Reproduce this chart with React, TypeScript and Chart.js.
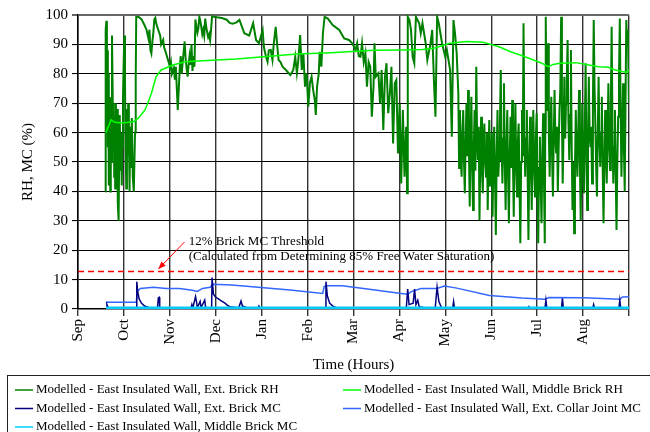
import React, { useEffect, useRef } from 'react';
import { Chart, registerables } from 'chart.js';

Chart.register(...registerables);

// ---------- DATA ----------
const monthLabels = ['Sep', 'Oct', 'Nov', 'Dec', 'Jan', 'Feb', 'Mar', 'Apr', 'May', 'Jun', 'Jul', 'Aug'];

const seriesNames = [
  'Modelled - East Insulated Wall, Ext. Brick RH',
  'Modelled - East Insulated Wall, Middle Brick RH',
  'Modelled - East Insulated Wall, Ext. Brick MC',
  'Modelled - East Insulated Wall, Ext. Collar Joint MC',
  'Modelled - East Insulated Wall, Middle Brick MC',
];

// time in months since 1 Sep, value in %
const extBrickRh: [number, number][] = [
  [0.597, 40], [0.603, 95], [0.618, 98], [0.629, 75], [0.639, 88], [0.650, 55], [0.661, 80], [0.671, 42],
  [0.688, 60], [0.703, 40], [0.714, 72], [0.725, 50], [0.740, 93], [0.752, 77], [0.767, 57], [0.778, 70],
  [0.789, 45], [0.799, 62], [0.810, 41], [0.825, 70], [0.838, 48], [0.852, 68], [0.867, 36], [0.884, 30],
  [0.899, 55], [0.910, 66], [0.923, 47], [0.938, 60], [0.953, 42], [0.965, 55], [0.980, 72], [0.995, 84],
  [1.008, 93], [1.023, 77], [1.038, 55], [1.051, 41], [1.066, 68], [1.080, 52], [1.093, 70], [1.108, 60],
  [1.123, 40], [1.136, 62], [1.151, 48], [1.172, 65], [1.193, 45], [1.215, 40], [1.242, 60], [1.257, 78],
  [1.268, 99.4],
  [1.321, 99.3], [1.385, 98.5], [1.449, 96.5], [1.492, 95], [1.534, 92], [1.556, 95], [1.577, 88], [1.598, 86.9],
  [1.620, 91], [1.641, 94], [1.662, 98.5], [1.684, 99], [1.705, 97], [1.747, 95], [1.790, 93], [1.811, 90],
  [1.854, 91.5], [1.875, 89], [1.918, 87], [1.960, 84.7], [2.003, 82.4], [2.024, 84], [2.045, 80], [2.088, 82],
  [2.109, 78], [2.131, 82.4], [2.152, 75], [2.173, 67.7], [2.195, 75], [2.216, 82], [2.237, 86], [2.259, 80],
  [2.280, 84], [2.323, 91], [2.344, 85], [2.365, 82], [2.387, 79], [2.408, 83], [2.429, 86], [2.451, 83],
  [2.472, 90], [2.493, 81], [2.515, 86], [2.536, 82.4], [2.557, 98.5], [2.579, 96], [2.600, 94], [2.621, 95.5],
  [2.643, 99.4], [2.664, 98], [2.685, 96], [2.707, 93.5], [2.728, 95], [2.749, 93], [2.771, 98.8], [2.792, 96],
  [2.813, 94], [2.834, 92.5], [2.856, 93.5], [2.877, 91.5], [2.898, 95], [2.920, 99.5], [3.026, 99.2], [3.133, 99],
  [3.239, 98.4], [3.303, 97.3], [3.367, 97], [3.452, 97.5],
  [3.516, 98.3], [3.623, 93.8], [3.729, 93], [3.814, 97.2], [3.878, 91.5], [3.942, 90.4], [4.021, 94.9], [4.049, 89],
  [4.092, 86], [4.128, 84.1], [4.156, 88], [4.198, 88.1], [4.235, 84.7], [4.262, 90], [4.305, 96], [4.348, 88],
  [4.369, 84.7], [4.411, 84], [4.454, 82.4], [4.518, 81.5], [4.561, 80.7], [4.625, 79.6], [4.689, 81.3], [4.731, 85.8],
  [4.767, 80.2], [4.795, 84], [4.838, 93.2], [4.874, 81.3], [4.908, 87], [4.944, 75.6], [4.980, 80.2], [5.015, 68.8],
  [5.051, 77], [5.087, 79], [5.121, 74.5], [5.157, 71], [5.179, 66], [5.206, 75.6], [5.243, 80], [5.264, 87.5],
  [5.300, 82.4], [5.334, 93.8], [5.371, 99.4], [5.441, 98.8], [5.547, 96.6], [5.690, 94.9], [5.797, 92], [5.903, 91.5],
  [5.973, 90.4], [6.046, 88.1], [6.080, 90.4], [6.116, 86], [6.152, 85.8], [6.186, 90.4], [6.223, 84], [6.259, 87],
  [6.293, 75.6], [6.329, 84], [6.365, 82.4], [6.399, 65.4], [6.436, 75.6],
  [6.457, 90.4], [6.485, 79], [6.542, 80.2], [6.578, 69.9], [6.613, 81.3], [6.649, 60.9], [6.685, 79], [6.719, 83.6],
  [6.756, 66.6], [6.792, 73.4], [6.826, 82.4], [6.862, 56.3], [6.898, 76.8], [6.933, 77.9], [6.969, 52.9], [7.005, 69.9],
  [7.039, 42.7], [7.075, 67.7], [7.111, 45], [7.146, 62], [7.167, 39.4], [7.182, 99.4], [7.218, 98.3], [7.252, 94.9],
  [7.288, 85.8], [7.324, 83.6], [7.359, 99.4], [7.431, 97.2], [7.465, 93.8], [7.502, 97.2], [7.572, 90.4], [7.608, 84.7],
  [7.678, 90.4], [7.714, 94.9], [7.751, 77.9], [7.785, 65.4], [7.821, 99.4], [7.857, 97.2], [7.928, 90.4], [7.998, 85.8],
  [8.034, 88.1], [8.104, 81.3], [8.141, 58.6], [8.177, 98.3], [8.211, 93.8], [8.247, 87],
  [8.283, 73.4], [8.300, 48], [8.318, 67.7], [8.336, 52], [8.354, 45], [8.372, 60], [8.390, 67.7], [8.407, 50],
  [8.424, 39.4], [8.442, 56], [8.460, 69.9], [8.478, 52], [8.496, 74.5], [8.513, 55], [8.531, 34.9], [8.549, 58],
  [8.567, 72.2], [8.585, 48], [8.603, 33.7], [8.620, 55], [8.637, 67.7], [8.655, 47], [8.674, 82.4], [8.692, 58],
  [8.710, 50.7], [8.727, 62], [8.744, 30.3], [8.762, 52], [8.780, 65.4], [8.798, 47], [8.816, 39.4], [8.833, 58],
  [8.850, 63.1], [8.868, 50], [8.887, 45], [8.905, 60], [8.923, 33.7], [8.940, 52], [8.957, 64.3], [8.975, 42],
  [8.993, 48.4], [9.011, 60], [9.029, 31.4], [9.046, 50], [9.064, 62], [9.082, 44], [9.100, 25.2], [9.118, 52],
  [9.136, 67.7], [9.153, 45], [9.170, 50.7], [9.188, 62], [9.207, 81.3], [9.225, 55], [9.243, 42.7], [9.260, 58],
  [9.277, 76.8], [9.295, 50], [9.313, 33.7], [9.331, 55], [9.349, 67.7], [9.366, 46], [9.384, 29.2], [9.402, 52],
  [9.420, 65.4], [9.438, 48], [9.456, 71.1], [9.473, 50], [9.490, 31.4], [9.508, 55], [9.526, 69.9], [9.544, 48],
  [9.562, 38.3], [9.580, 57], [9.597, 63.1], [9.615, 44], [9.633, 22.4], [9.651, 50], [9.669, 67.7], [9.686, 52],
  [9.703, 97.2], [9.721, 60], [9.739, 45], [9.757, 58], [9.775, 67.7], [9.792, 46], [9.810, 23.5], [9.828, 50],
  [9.846, 65.4], [9.864, 48], [9.882, 33.7], [9.899, 55], [9.916, 67.7], [9.935, 47], [9.953, 38.3], [9.971, 58],
  [9.989, 66.6], [10.006, 45], [10.023, 22.4], [10.041, 48], [10.059, 58.6], [10.077, 42], [10.095, 29.2], [10.112, 52],
  [10.130, 66.6], [10.148, 44], [10.166, 22.4], [10.176, 60], [10.187, 99.4], [10.201, 75], [10.215, 67.7], [10.225, 80],
  [10.236, 90.4], [10.254, 60], [10.272, 45], [10.290, 62], [10.308, 72.2], [10.325, 52], [10.343, 38.3], [10.361, 58],
  [10.379, 74.5], [10.397, 58], [10.415, 52.9], [10.432, 62], [10.450, 40], [10.468, 55], [10.486, 67.7], [10.504, 75],
  [10.522, 99.4], [10.539, 65], [10.556, 42.7], [10.574, 60], [10.592, 79], [10.610, 58], [10.628, 69.9], [10.645, 78],
  [10.663, 91.5], [10.681, 64], [10.699, 50.7], [10.717, 66], [10.735, 88.1], [10.752, 55], [10.769, 33.7], [10.787, 50],
  [10.805, 25.8], [10.823, 48], [10.841, 67.7], [10.858, 52], [10.876, 45], [10.894, 60], [10.912, 74.5], [10.930, 50],
  [10.948, 30.3], [10.965, 52], [10.982, 69.9], [11.000, 50], [11.019, 39.4], [11.037, 60], [11.055, 83.6], [11.072, 55],
  [11.089, 33.7], [11.107, 55], [11.125, 79], [11.142, 60], [11.160, 55], [11.178, 62], [11.196, 42.7], [11.214, 70],
  [11.232, 98.3], [11.250, 75], [11.268, 62], [11.285, 48], [11.302, 38.3], [11.320, 60], [11.338, 79], [11.356, 58],
  [11.374, 48.4], [11.391, 60], [11.408, 72.2], [11.427, 48], [11.445, 29.2], [11.463, 50], [11.481, 67.7], [11.498, 52],
  [11.515, 42.7], [11.533, 60], [11.551, 76.8], [11.569, 55], [11.587, 47.3], [11.605, 70], [11.622, 96], [11.640, 62],
  [11.658, 42.7], [11.676, 55], [11.694, 67.7], [11.711, 45], [11.728, 26.9], [11.746, 50], [11.764, 65.4], [11.782, 80],
  [11.800, 98.8], [11.818, 68], [11.835, 45], [11.853, 60], [11.871, 76.8], [11.889, 55], [11.907, 40], [11.924, 70],
  [11.941, 98.3], [11.960, 90], [11.977, 94.9], [11.998, 70],
];

const middleBrickRh: [number, number][] = [
  [0.61, 60], [0.66, 62], [0.72, 64.3], [0.80, 63.5], [0.95, 63.3], [1.10, 63.5], [1.21, 63.7], [1.32, 65],
  [1.45, 67.5], [1.49, 68.8], [1.60, 73.4], [1.70, 79], [1.81, 81.3], [2.07, 83], [2.34, 84.1], [2.71, 84.4],
  [3.45, 85], [4.77, 86.7], [5.5, 87.2], [6.44, 88], [7.04, 88.1], [7.5, 88.3], [7.75, 88.7], [8.1, 90.4],
  [8.46, 91], [8.82, 90.7], [9.17, 89.2], [9.42, 87.5], [9.63, 86.4], [9.92, 84.7], [10.1, 83.6], [10.24, 82.4],
  [10.35, 83.2], [10.49, 83.6], [10.84, 83.8], [11.13, 83], [11.34, 82.4], [11.55, 82.2], [11.7, 81.3], [11.87, 80.7],
  [11.95, 80.5], [12.0, 81.3],
];

const extBrickMc: [number, number][] = [
  [0.61, 0.3], [0.63, 1.5], [0.66, 0.3], [1.27, 0.3], [1.28, 9.3], [1.30, 6], [1.33, 3.5], [1.38, 2], [1.45, 1],
  [1.55, 0.4], [1.73, 0.3], [1.75, 3.8], [1.77, 4.0], [1.78, 0.5], [2.46, 0.3], [2.48, 1.5], [2.50, 0.3],
  [2.56, 4.2], [2.58, 2.5], [2.60, 0.5], [2.66, 2.6], [2.68, 0.5], [2.76, 3.0], [2.78, 0.4], [2.91, 0.4],
  [2.92, 10.7], [2.95, 5], [3.0, 4], [3.05, 3.5], [3.12, 2.8], [3.2, 2.0], [3.25, 1.3], [3.3, 0.8], [3.5, 0.4],
  [3.55, 2.7], [3.58, 1.0], [3.7, 0.3], [3.92, 0.3], [3.94, 1.0], [3.96, 0.3], [5.39, 0.3], [5.40, 9.3],
  [5.43, 4.5], [5.48, 2], [5.55, 1], [5.65, 0.3], [7.15, 0.3], [7.18, 6.8], [7.21, 1.5], [7.30, 2], [7.33, 6.8],
  [7.36, 1.5], [7.40, 3], [7.43, 0.8], [7.6, 0.3], [7.78, 0.5], [7.82, 7.4], [7.86, 2.5], [7.92, 0.3],
  [8.16, 0.3], [8.18, 2.5], [8.20, 0.3], [9.8, 0.3], [9.82, 0.8], [9.84, 0.3], [10.17, 0.3], [10.19, 3.0],
  [10.21, 0.3], [10.53, 0.3], [10.55, 3.6], [10.57, 0.3], [11.21, 0.3], [11.23, 1.5], [11.25, 0.3],
  [11.78, 0.3], [11.80, 3.0], [11.82, 0.3], [12.0, 0.3],
];

const extCollarJointMc: [number, number][] = [
  [0.61, 1.9], [0.64, 2.4], [0.70, 2.3], [1.0, 2.3], [1.27, 2.3], [1.29, 6.0], [1.36, 7.0], [1.64, 7.4],
  [1.92, 7.0], [2.21, 7.0], [2.49, 6.4], [2.60, 6.0], [2.71, 7.0], [2.88, 7.4], [2.93, 8.4], [3.35, 8.2],
  [3.92, 7.4], [4.62, 6.5], [5.33, 5.3], [5.36, 7.6], [5.41, 7.9], [5.75, 7.9], [6.22, 7.0], [7.04, 5.3],
  [7.18, 5.0], [7.26, 5.9], [7.47, 7.0], [7.82, 7.0], [7.98, 7.8], [8.25, 7.1], [8.96, 4.6], [9.67, 3.7],
  [10.17, 3.3], [10.26, 3.9], [11.02, 3.8], [11.8, 3.3], [11.86, 4.1], [12.0, 4.2],
];

const middleBrickMc: [number, number][] = [
  [0.61, 0.3], [3, 0.3], [6, 0.3], [9, 0.3], [12, 0.3],
];

const thresholdMc = 12.8;
const noteLines = ['12% Brick MC Threshold', '(Calculated from Determining 85% Free Water Saturation)'];
const noteAnchor: [number, number, number] = [2.41, 23.1, 17.7]; // x (month), y of line 1, y of line 2
const arrowTail: [number, number] = [2.32, 22.8];
const arrowHead: [number, number] = [1.75, 13.6];

// ---------- CHART ----------
const FONT = '"Liberation Serif", "Times New Roman", Times, serif';
const toPts = (a: [number, number][]) => a.map(([x, y]) => ({ x, y }));

const overlayPlugin = {
  id: 'overlay',
  beforeDatasetsDraw(chart: any) {
    const ctx = chart.ctx as CanvasRenderingContext2D;
    const xs = chart.scales.x;
    const ys = chart.scales.y;
    const y = Math.round(ys.getPixelForValue(thresholdMc)) + 0.5;
    ctx.save();
    ctx.strokeStyle = 'rgb(255, 0, 0)';
    ctx.lineWidth = 1.3;
    ctx.setLineDash([6, 4]);
    ctx.beginPath();
    ctx.moveTo(xs.getPixelForValue(0), y);
    ctx.lineTo(xs.getPixelForValue(12), y);
    ctx.stroke();
    ctx.restore();
  },
  afterDraw(chart: any) {
    const ctx = chart.ctx as CanvasRenderingContext2D;
    const xs = chart.scales.x;
    const ys = chart.scales.y;
    ctx.save();
    // arrow
    const tx = xs.getPixelForValue(arrowTail[0]);
    const ty = ys.getPixelForValue(arrowTail[1]);
    const hx = xs.getPixelForValue(arrowHead[0]);
    const hy = ys.getPixelForValue(arrowHead[1]);
    ctx.strokeStyle = '#FF0000';
    ctx.fillStyle = '#FF0000';
    ctx.lineWidth = 1;
    ctx.beginPath();
    ctx.moveTo(tx, ty);
    ctx.lineTo(hx, hy);
    ctx.stroke();
    const ang = Math.atan2(hy - ty, hx - tx);
    const L = 8;
    ctx.beginPath();
    ctx.moveTo(hx, hy);
    ctx.lineTo(hx - L * Math.cos(ang - 0.38), hy - L * Math.sin(ang - 0.38));
    ctx.lineTo(hx - L * Math.cos(ang + 0.38), hy - L * Math.sin(ang + 0.38));
    ctx.closePath();
    ctx.fill();
    // note text
    ctx.fillStyle = '#000';
    ctx.font = `13px ${FONT}`;
    ctx.textAlign = 'left';
    ctx.textBaseline = 'middle';
    const nx = xs.getPixelForValue(noteAnchor[0]);
    ctx.fillText(noteLines[0], nx, ys.getPixelForValue(noteAnchor[1]));
    ctx.fillText(noteLines[1], nx, ys.getPixelForValue(noteAnchor[2]));

    // legend box
    ctx.strokeStyle = '#222';
    ctx.lineWidth = 1;
    ctx.strokeRect(7.5, 375.5, 700, 100);
    const colX = [15, 343];
    const rowY = [390, 408.5, 427];
    ctx.font = `13px ${FONT}`;
    for (let i = 0; i < 5; i++) {
      const ds = chart.data.datasets[i];
      const x = colX[i % 2];
      const y = rowY[Math.floor(i / 2)];
      ctx.strokeStyle = ds.borderColor;
      ctx.lineWidth = 1.5;
      ctx.beginPath();
      ctx.moveTo(x, y);
      ctx.lineTo(x + 18, y);
      ctx.stroke();
      ctx.fillStyle = '#000';
      ctx.fillText(ds.label, x + 21, y);
    }
    ctx.restore();
  },
};

export default function App() {
  const ref = useRef<HTMLCanvasElement | null>(null);
  useEffect(() => {
    if (!ref.current) return;
    const chart = new Chart(ref.current, {
      type: 'line',
      data: {
        datasets: [
          { label: seriesNames[0], data: toPts(extBrickRh), borderColor: '#008000', borderWidth: 2, order: 5 },
          { label: seriesNames[1], data: toPts(middleBrickRh), borderColor: '#00FF00', borderWidth: 1.5, order: 4 },
          { label: seriesNames[2], data: toPts(extBrickMc), borderColor: '#000080', borderWidth: 1.5, order: 2 },
          { label: seriesNames[3], data: toPts(extCollarJointMc), borderColor: '#3366FF', borderWidth: 1.5, order: 3 },
          { label: seriesNames[4], data: toPts(middleBrickMc), borderColor: '#00CCFF', borderWidth: 3, order: 1 },
        ] as any,
      },
      options: {
        animation: false,
        responsive: false,
        devicePixelRatio: 1,
        elements: { point: { radius: 0 }, line: { tension: 0 } },
        layout: { padding: { left: 0, top: 15, right: 9, bottom: 57 } },
        plugins: { legend: { display: false }, tooltip: { enabled: false } },
        scales: {
          x: {
            type: 'linear',
            min: 0,
            max: 12,
            afterFit: (s: any) => { s.height = 66; },
            ticks: {
              stepSize: 1,
              autoSkip: false,
              minRotation: 90,
              maxRotation: 90,
              color: '#000',
              font: { family: FONT, size: 15 },
              padding: 3,
              callback: (v: any) => (Number.isInteger(v) && v < 12 ? monthLabels[v] : ''),
            },
            grid: { color: '#333', lineWidth: 1.4, tickLength: 7 },
            border: { color: '#000', width: 1.5 },
            title: { display: true, text: 'Time (Hours)', color: '#000', font: { family: FONT, size: 15 }, padding: { top: 0, bottom: 1 } },
          },
          y: {
            min: 0,
            max: 100,
            afterFit: (s: any) => { s.width = 78; },
            ticks: { stepSize: 10, color: '#000', font: { family: FONT, size: 15 }, padding: 4 },
            grid: {
              color: (c: any) => (c.tick && c.tick.value === 100 ? '#666' : '#000'),
              lineWidth: (c: any) => (c.tick && c.tick.value === 100 ? 2 : 1.1),
              tickLength: 6,
            },
            border: { color: '#000', width: 1.5 },
            title: { display: true, text: 'RH, MC (%)', color: '#000', font: { family: FONT, size: 15 }, padding: { top: 19, bottom: 0 } },
          },
        },
      } as any,
      plugins: [overlayPlugin],
    });
    return () => chart.destroy();
  }, []);
  return (
    <div style={{ position: 'fixed', left: 0, top: 0, width: 650, height: 432, background: '#fff' }}>
      <canvas ref={ref} width={650} height={432} style={{ width: 650, height: 432, display: 'block' }} />
    </div>
  );
}
